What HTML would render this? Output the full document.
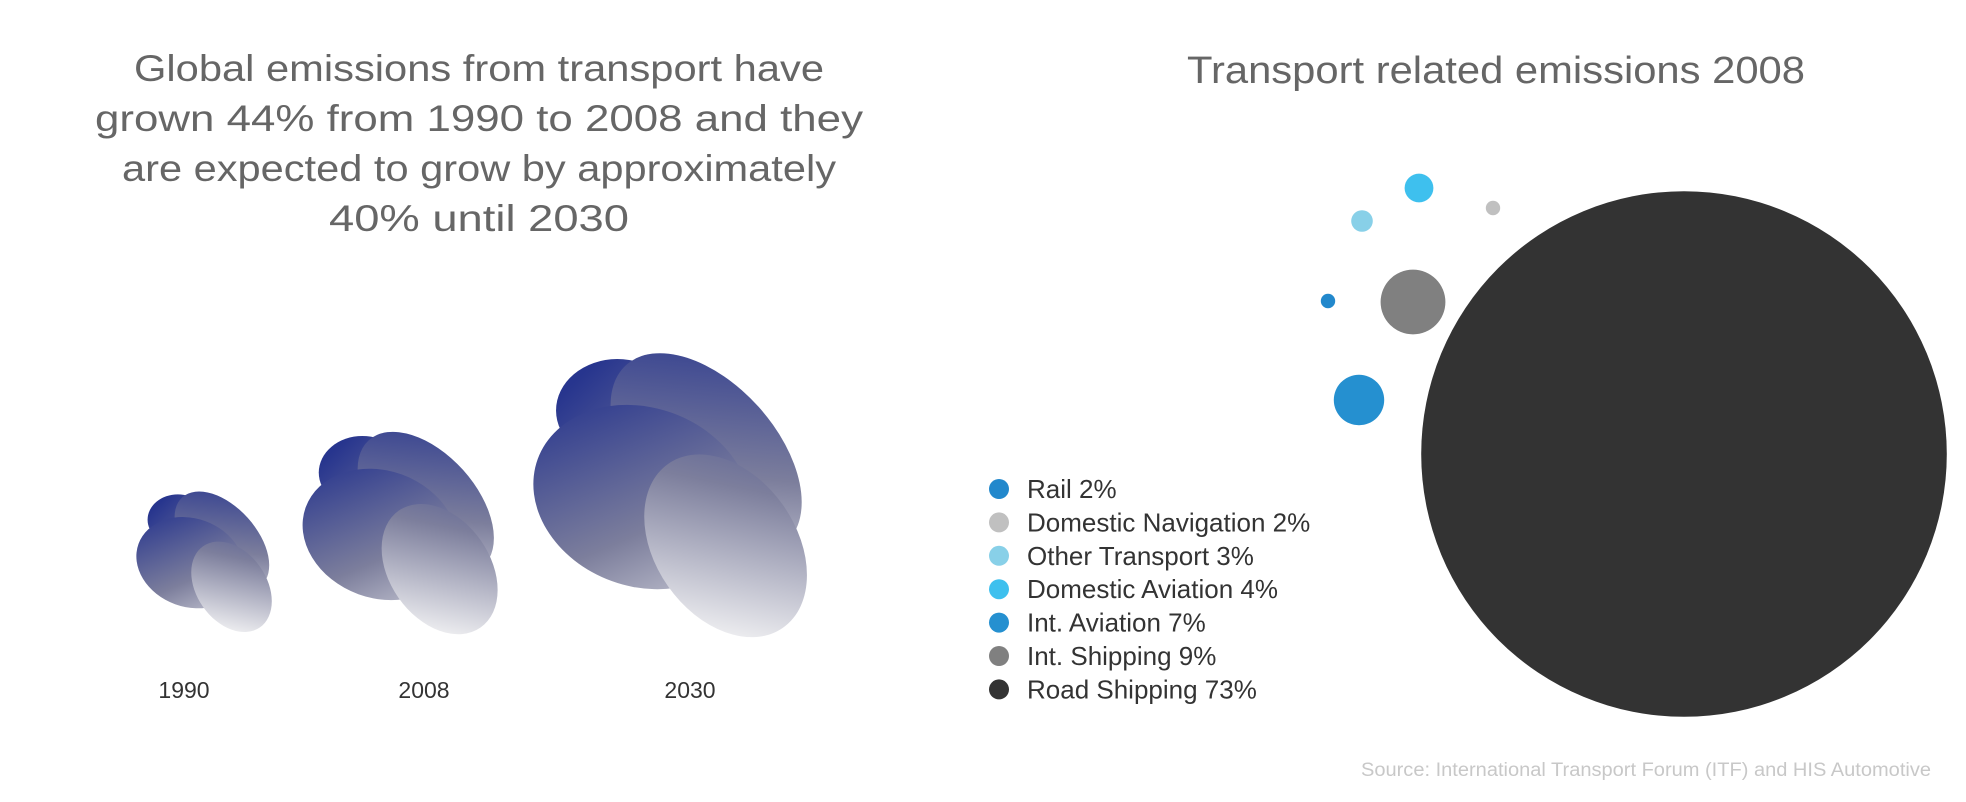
<!DOCTYPE html>
<html><head><meta charset="utf-8"><style>
html,body{margin:0;padding:0;background:#fff;width:1966px;height:802px;overflow:hidden}
svg{display:block;font-family:"Liberation Sans",sans-serif}
</style></head><body>
<svg id="c" width="1966" height="802" viewBox="0 0 1966 802">
<defs></defs>
<g fill="#666" font-size="37" text-anchor="middle">
<text x="479" y="81" textLength="690" lengthAdjust="spacingAndGlyphs">Global emissions from transport have</text>
<text x="479" y="131" textLength="768" lengthAdjust="spacingAndGlyphs">grown 44% from 1990 to 2008 and they</text>
<text x="479" y="181" textLength="714" lengthAdjust="spacingAndGlyphs">are expected to grow by approximately</text>
<text x="479" y="231" textLength="300" lengthAdjust="spacingAndGlyphs">40% until 2030</text>
</g>
<text x="1496" y="83" font-size="38" fill="#666" text-anchor="middle" textLength="618" lengthAdjust="spacingAndGlyphs">Transport related emissions 2008</text>
<text x="1931" y="776" font-size="19" fill="#c8c8c8" text-anchor="end" textLength="570" lengthAdjust="spacingAndGlyphs">Source: International Transport Forum (ITF)  and HIS Automotive</text>
<g id="clouds"></g>
<g id="bubbles"></g>
<g id="legend"></g>
</svg>
<script>
const years=["1990","2008","2030"];
const emissionIndex=[100,144,202];
const categories=["Rail","Domestic Navigation","Other Transport","Domestic Aviation","Int. Aviation","Int. Shipping","Road Shipping"];
const shares=[2,2,3,4,7,9,73];
const colors=["#2288cc","#c0c0c0","#88d0e8","#3ec0ee","#2590d0","#808080","#333333"];
const bubbleCx=[1328,1493,1362,1419,1359,1413,1684];
const bubbleCy=[301,208,221,188,400,302,454];

const NS="http://www.w3.org/2000/svg";
const svg=document.getElementById('c');
const defs=svg.querySelector('defs');
function mk(t,a,p){const e=document.createElementNS(NS,t);for(const k in a)e.setAttribute(k,a[k]);p.appendChild(e);return e;}

// clouds
const cloudX=[204,400,670];
const labelX=[184,424,690];
const baseY=627;
const wScale=v=>1.376*v, hScale=v=>1.34*v;
const cg=document.getElementById('clouds');
years.forEach((y,i)=>{
  const W=wScale(emissionIndex[i]),H=hScale(emissionIndex[i]);
  const x0=cloudX[i]-W/2,y0=baseY-H;
  const gr=mk('linearGradient',{id:'g'+i,gradientUnits:'userSpaceOnUse',x1:x0+W*0.15,y1:y0+H*0.1,x2:x0+W*0.95,y2:y0+H*0.98},defs);
  mk('stop',{offset:'0','stop-color':'#27358e'},gr);
  mk('stop',{offset:'0.5','stop-color':'#7c7e9c'},gr);
  mk('stop',{offset:'1','stop-color':'#f8f8f8'},gr);
  const g=mk('g',{fill:'url(#g'+i+')'},cg);
  
  
  mk('ellipse',{cx:x0+W*0.31,cy:y0+H*0.2,rx:W*0.22,ry:H*0.19},g);
  mk('ellipse',{cx:x0+W*0.63,cy:y0+H*0.36,rx:W*0.43,ry:H*0.26,transform:`rotate(48 ${x0+W*0.63} ${y0+H*0.36})`},g);
  mk('ellipse',{cx:x0+W*0.4,cy:y0+H*0.52,rx:W*0.4,ry:H*0.33,transform:`rotate(20 ${x0+W*0.4} ${y0+H*0.52})`},g);
  mk('ellipse',{cx:x0+W*0.7,cy:y0+H*0.7,rx:W*0.36,ry:H*0.26,transform:`rotate(55 ${x0+W*0.7} ${y0+H*0.7})`},g);
  const t=mk('text',{x:labelX[i],y:698,'font-size':23,fill:'#333','text-anchor':'middle'},cg);
  t.textContent=y;
  
  
});

// bubbles
const rScale=v=>3.6*v;
const bg=document.getElementById('bubbles');
shares.forEach((v,i)=>{
  const c=mk('circle',{cx:bubbleCx[i],cy:bubbleCy[i],r:rScale(v),fill:colors[i]},bg);
  
  
});

// legend
const lg=document.getElementById('legend');
categories.forEach((n,i)=>{
  const y=489+i*33.4;
  const g=mk('g',{},lg);
  
  
  mk('circle',{cx:999,cy:y,r:10,fill:colors[i]},g);
  const t=mk('text',{x:1027,y:y+9,'font-size':26,fill:'#333'},g);
  t.textContent=n+' '+shares[i]+'%';
});
</script>
</body></html>
